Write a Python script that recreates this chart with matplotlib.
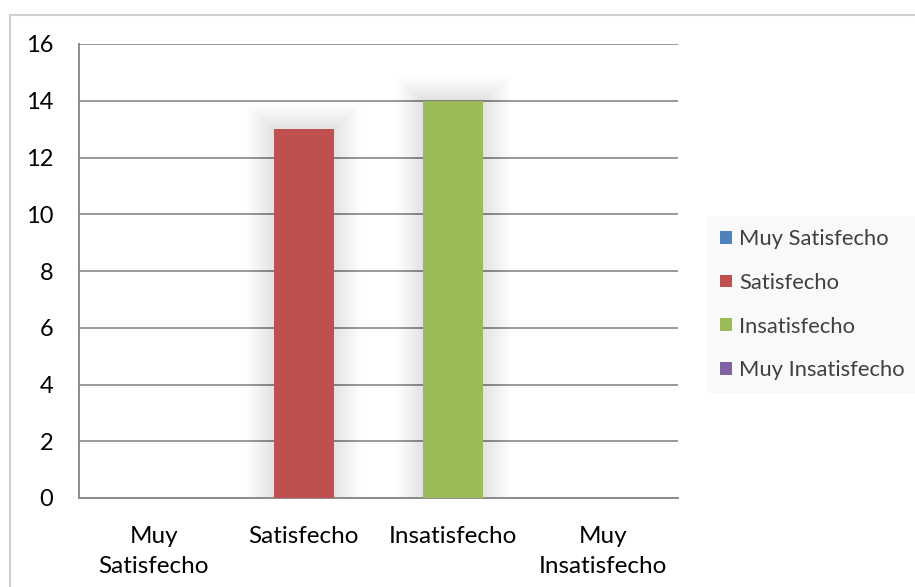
import matplotlib
matplotlib.use("Agg")
import matplotlib.pyplot as plt
from matplotlib.patches import Rectangle, Patch
import numpy as np

categories = ["Muy\nSatisfecho", "Satisfecho", "Insatisfecho", "Muy\nInsatisfecho"]
series_names = ["Muy Satisfecho", "Satisfecho", "Insatisfecho", "Muy Insatisfecho"]
values = [0, 13, 14, 0]
colors = ["#4f81bd", "#c0504d", "#9bbb59", "#8064a2"]
yticks = [0, 2, 4, 6, 8, 10, 12, 14, 16]

plt.rcParams["font.family"] = ["Lato", "DejaVu Sans"]

W, H = 915, 587
fig = plt.figure(figsize=(W / 100, H / 100), dpi=100)
fig.patch.set_facecolor("white")

# chart area border
fig.add_artist(Rectangle((10 / W, -0.1), 1.2, (H - 15) / H + 0.1,
                         transform=fig.transFigure, fill=False,
                         edgecolor="#d0d0d0", linewidth=1.5))

ax = fig.add_axes([79 / W, 1 - 498 / H, (678 - 79) / W, (498 - 44) / H])
ax.set_xlim(-0.5, len(categories) - 0.5)
ax.set_ylim(0, 16)

ax.set_yticks(yticks)
ax.set_yticklabels([str(t) for t in yticks], fontsize=17, color="#000000")
ax.set_xticks(range(len(categories)))
ax.set_xticklabels(categories, fontsize=17.5, color="#000000", linespacing=1.55)
ax.tick_params(axis="y", length=0, pad=18.5)
ax.tick_params(axis="x", length=0, pad=20)

ax.yaxis.grid(True, color="#9a9a9a", linewidth=1.4)
ax.set_axisbelow(True)
for side in ["top", "right"]:
    ax.spines[side].set_visible(False)
ax.spines["left"].set_color("#8c8c8c")
ax.spines["left"].set_linewidth(1.4)
ax.spines["bottom"].set_color("#8c8c8c")
ax.spines["bottom"].set_linewidth(1.4)

bar_w = 0.4
x = np.arange(len(categories))

# soft shadow around each bar
for xi, v in zip(x, values):
    if v <= 0:
        continue
    for k in range(14):
        pad_x = 0.013 * (k + 1)
        pad_y = 0.06 * (k + 1)
        ax.add_patch(Rectangle((xi - bar_w / 2 - pad_x, 0), bar_w + 2 * pad_x, v + pad_y,
                               facecolor="#000000", alpha=0.009, edgecolor="none", zorder=1.5))

bars = ax.bar(x, values, width=bar_w, color=colors, zorder=3)

handles = [Patch(facecolor=c, edgecolor="none") for c in colors]
leg = fig.legend(handles, series_names, loc="upper left",
                 bbox_to_anchor=(707 / W, 1 - 216 / H), borderaxespad=0,
                 frameon=True, fontsize=15.8, handlelength=0.52, handleheight=0.52,
                 handletextpad=0.33, labelspacing=1.08, borderpad=0.6,
                 labelcolor="#404040")
leg.get_frame().set_facecolor("#f8f8f8")
leg.get_frame().set_edgecolor("none")
leg.get_frame().set_boxstyle("square", pad=0)

fig.savefig("out.png", dpi=100, facecolor="white")
